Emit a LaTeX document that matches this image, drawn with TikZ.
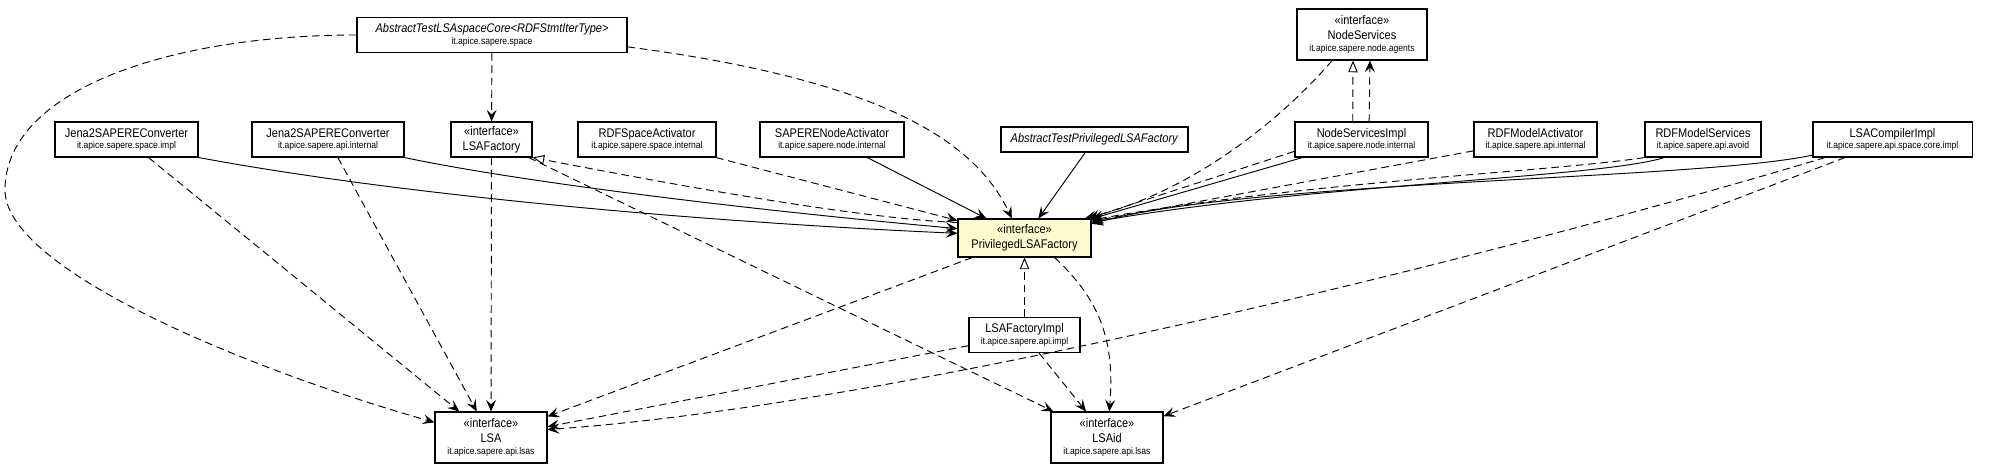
\documentclass[tikz,border=0pt]{standalone}
\usepackage{fontspec}
\usetikzlibrary{arrows.meta}
\newfontfamily\umlfamily{Liberation Sans}[FakeStretch=0.88]
\newcommand{\umlfont}{\umlfamily\fontsize{10.7}{13}\selectfont}
\newcommand{\pkgfont}{\fontsize{8.3}{10}\selectfont}
\newcommand{\stereo}{«interface»}
\definecolor{lemon}{RGB}{255,250,205}
\tikzset{
  classbox/.style={draw, line width=0.9pt, fill=white, inner sep=0pt, align=center, font=\umlfont},
  row1/.style={classbox, minimum height=0.75cm},
  row2/.style={classbox, minimum height=1.05cm},
  row3/.style={classbox, minimum height=1.53cm},
  dep/.style={line width=0.8pt, dash pattern=on 6.5pt off 4pt, -{Stealth[length=10pt,width=8.5pt,inset=4pt]}},
  assoc/.style={line width=0.8pt, -{Stealth[length=10pt,width=8.5pt,inset=4pt]}},
  realize/.style={line width=0.8pt, dash pattern=on 6.5pt off 4pt, -{Triangle[open,length=10pt,width=8pt]}},
}
\begin{document}
\begin{tikzpicture}[x=0.03cm, y=-0.03cm]
\useasboundingbox (0,0) rectangle (1989,475);
% top row
\node[row2, minimum width=8.1cm] (at) at (492,35) {\textit{AbstractTestLSAspaceCore<RDFStmtIterType>}\\[-3pt]{\pkgfont it.apice.sapere.space}};
\node[row3, minimum width=3.9cm] (ns) at (1362,34.5) {\stereo\\NodeServices\\[-3pt]{\pkgfont it.apice.sapere.node.agents}};
% second row
\node[row2, minimum width=4.29cm] (jena1) at (126.5,139.5) {Jena2SAPEREConverter\\[-3pt]{\pkgfont it.apice.sapere.space.impl}};
\node[row2, minimum width=4.56cm] (jena2) at (328,139.5) {Jena2SAPEREConverter\\[-3pt]{\pkgfont it.apice.sapere.api.internal}};
\node[row2, minimum width=2.43cm] (lf) at (491.5,139.5) {\stereo\\LSAFactory};
\node[row2, minimum width=4.14cm] (rsa) at (647,139.5) {RDFSpaceActivator\\[-3pt]{\pkgfont it.apice.sapere.space.internal}};
\node[row2, minimum width=4.32cm] (sna) at (832,139.5) {SAPERENodeActivator\\[-3pt]{\pkgfont it.apice.sapere.node.internal}};
\node[row1, minimum width=5.61cm] (atp) at (1094.5,139.5) {\textit{AbstractTestPrivilegedLSAFactory}};
\node[row2, minimum width=3.99cm] (nsi) at (1361.5,139.5) {NodeServicesImpl\\[-3pt]{\pkgfont it.apice.sapere.node.internal}};
\node[row2, minimum width=3.69cm] (rma) at (1535.5,139.5) {RDFModelActivator\\[-3pt]{\pkgfont it.apice.sapere.api.internal}};
\node[row2, minimum width=3.48cm] (rms) at (1703,139.5) {RDFModelServices\\[-3pt]{\pkgfont it.apice.sapere.api.avoid}};
\node[row2, minimum width=4.77cm] (lci) at (1892.5,139.5) {LSACompilerImpl\\[-3pt]{\pkgfont it.apice.sapere.api.space.core.impl}};
% middle
\node[row2, fill=lemon, minimum width=3.99cm, minimum height=1.14cm] (p) at (1024.5,238) {\stereo\\PrivilegedLSAFactory};
\node[row2, minimum width=3.33cm] (lfi) at (1024.5,335) {LSAFactoryImpl\\[-3pt]{\pkgfont it.apice.sapere.api.impl}};
% bottom row
\node[row3, minimum width=3.36cm] (lsa) at (491,437.5) {\stereo\\LSA\\[-3pt]{\pkgfont it.apice.sapere.api.lsas}};
\node[row3, minimum width=3.36cm] (lid) at (1107,437.5) {\stereo\\LSAid\\[-3pt]{\pkgfont it.apice.sapere.api.lsas}};
% into LSA
\draw[dep] (at.west) .. controls (170,35) and (5,90) .. (5,190) .. controls (5,270) and (250,370) .. (lsa.165);
\draw[dep] (jena1) -- (lsa);
\draw[dep] (jena2) -- (lsa);
\draw[dep] (lf) -- (lsa);
\draw[dep] (p) -- (lsa);
\draw[dep] (lfi) -- (lsa);
\draw[dep] (lci.195) .. controls (1500,255) and (900,405) .. (lsa.8);
% into LSAid
\draw[dep] (lf) -- (lid);
\draw[dep] (lfi) -- (lid);
\draw[dep] (p.-33) .. controls (1100,300) and (1115,340) .. (lid.85);
\draw[dep] (lci) -- (lid);
% from the abstract test
\draw[dep] (at) -- (lf);
\draw[dep] (at.-5) .. controls (880,80) and (975,140) .. (p.123);
% into P, left and top
\draw[assoc] (jena1.south east) .. controls (400,195) and (700,222) .. (p.176);
\draw[assoc] (jena2.south east) .. controls (520,182) and (750,210) .. (p.172);
\draw[dep] (rsa) -- (p);
\draw[assoc] (sna) -- (p);
\draw[assoc] (atp) -- (p);
% into P, right
\draw[dep] (ns.221) .. controls (1290,110) and (1200,190) .. (p.18);
\draw[dep] (nsi.190) -- (p.17);
\draw[assoc] (nsi.197) -- (p.16);
\draw[dep] (rma) -- (p.14);
\draw[dep] (rms.south west) .. controls (1550,172) and (1300,182) .. (p.15);
\draw[assoc] (rms.205) .. controls (1600,178) and (1300,185) .. (p.13);
\draw[assoc] (lci.191) .. controls (1700,180) and (1250,180) .. (p.12);
% realizations
\draw[realize] (p.167) .. controls (850,218) and (650,180) .. (lf.south east);
\draw[realize] (lfi) -- (p);
\draw[realize] (nsi.116) -- (ns.251);
\draw[dep] (nsi.67) -- (ns.287);
\end{tikzpicture}
\end{document}
